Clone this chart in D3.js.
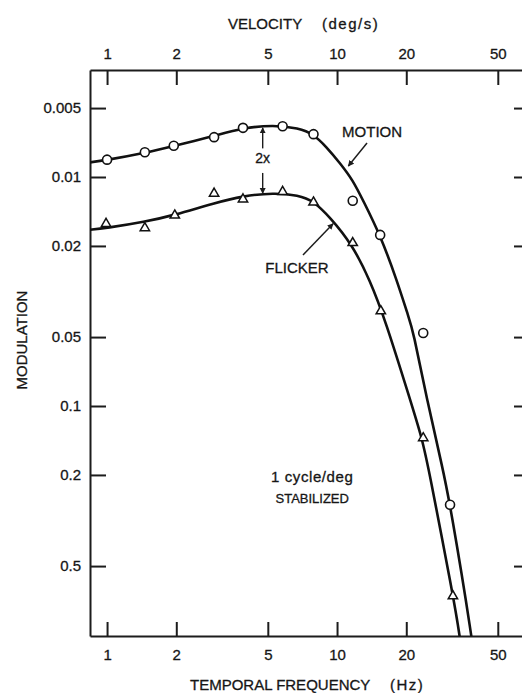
<!DOCTYPE html>
<html>
<head>
<meta charset="utf-8">
<script src="https://cdn.jsdelivr.net/npm/d3@7"></script>
<style>
  body { margin: 0; background: #fff; }
  svg text { font-family: "Liberation Sans", Arial, sans-serif; fill: #161616; stroke: #161616; stroke-width: 0.3px; }
  .axis path, .axis line { stroke: #1c1c1c; stroke-width: 2; }
  .axis text { font-size: 15px; }
</style>
</head>
<body>
<div id="chart"></div>
<script>
// tick labels
var freqTicks = [1, 2, 5, 10, 20, 50];
var velTicks = [1, 2, 5, 10, 20, 50];
var modTicks = [0.005, 0.01, 0.02, 0.05, 0.1, 0.2, 0.5];

// measured points (Hz, modulation)
var motionFreq = [1, 1.46, 1.95, 2.92, 3.9, 5.8, 7.9, 11.7, 15.4, 23.7, 31];
var motionMod = [0.0084, 0.0078, 0.0073, 0.0067, 0.0061, 0.0060, 0.0065, 0.0127, 0.0179, 0.048, 0.27];
var flickerFreq = [0.99, 1.46, 1.97, 2.92, 3.9, 5.8, 7.9, 11.7, 15.5, 23.7, 31.9];
var flickerMod = [0.0160, 0.0167, 0.0147, 0.0118, 0.0125, 0.0116, 0.0129, 0.0194, 0.0385, 0.138, 0.676];

// fitted curves
var motionCurveFreq = [0.8, 1, 1.46, 1.95, 2.92, 3.9, 5.3, 6.8, 7.9, 9.0, 10.3, 11.7, 13.0, 15.4, 18.2, 20.4, 21.4, 24.6, 28.9, 31, 38.6, 42];
var motionCurveMod = [0.0087, 0.00843, 0.00786, 0.00732, 0.00662, 0.00611, 0.00592, 0.00612, 0.00649, 0.0074, 0.00869, 0.0103, 0.0127, 0.0179, 0.0282, 0.0405, 0.0466, 0.0941, 0.190, 0.268, 1.01, 2.0];
var flickerCurveFreq = [0.8, 1, 1.46, 1.95, 2.92, 3.9, 5.3, 6.8, 7.9, 9.3, 11.6, 13.9, 16.2, 20.8, 23.4, 25.1, 31.9, 34.3, 37];
var flickerCurveMod = [0.0171, 0.0167, 0.0157, 0.0147, 0.0130, 0.0121, 0.01172, 0.0120, 0.01273, 0.01495, 0.0196, 0.0282, 0.0421, 0.0941, 0.138, 0.190, 0.669, 1.01, 2.0];

var margin = { top: 70, left: 90 };
var width = 434;
var height = 566;

var svg = d3.select("#chart")
	.append("svg")
	.attr("width", 522)
	.attr("height", 693)
	.append("g")
	.attr("transform", "translate(" + margin.left + "," + margin.top + ")");

//Scales (log on both axes)
var x = d3.scaleLog().domain([0.843, 65]).range([0, width]);
var y = d3.scaleLog().domain([0.00341, 1.01]).range([0, height]);

var defs = svg.append("defs");
defs.append("clipPath").attr("id", "plot")
	.append("rect").attr("width", width).attr("height", height);

defs.append("marker")
	.attr("id", "arrow")
	.attr("viewBox", "0 0 10 10")
	.attr("refX", 9).attr("refY", 5)
	.attr("markerWidth", 6).attr("markerHeight", 7)
	.attr("markerUnits", "userSpaceOnUse")
	.attr("orient", "auto")
	.append("path").attr("d", "M0,0L10,5L0,10Z").attr("fill", "#1c1c1c");

var fmt = function(d) { return String(d); };

//Axes
svg.append("g").attr("class", "axis")
	.attr("transform", "translate(0," + height + ")")
	.call(d3.axisBottom(x).tickValues(freqTicks).tickFormat(fmt).tickSizeInner(-14).tickSizeOuter(0).tickPadding(13));

svg.append("g").attr("class", "axis")
	.call(d3.axisTop(x).tickValues(velTicks).tickFormat(fmt).tickSizeInner(-15).tickSizeOuter(0).tickPadding(11));

svg.append("g").attr("class", "axis")
	.call(d3.axisLeft(y).tickValues(modTicks).tickFormat(fmt).tickSizeInner(-16).tickSizeOuter(0).tickPadding(9));

svg.append("g").attr("class", "axis")
	.attr("transform", "translate(" + width + ",0)")
	.call(d3.axisRight(y).tickValues(modTicks).tickFormat("").tickSizeInner(-10).tickSizeOuter(0));

//Axis titles
svg.append("text").attr("x", 138).attr("y", -41).style("font-size", "15px").text("VELOCITY");
svg.append("text").attr("x", 232).attr("y", -41).style("font-size", "15px")
	.style("letter-spacing", "1.5px").text("(deg/s)");
svg.append("text").attr("x", 100).attr("y", 620).style("font-size", "15px").text("TEMPORAL FREQUENCY");
svg.append("text").attr("x", 300).attr("y", 620).style("font-size", "15px")
	.style("letter-spacing", "1.5px").text("(Hz)");
svg.append("text")
	.attr("transform", "translate(" + (-63) + "," + 270 + ") rotate(-90)")
	.attr("text-anchor", "middle")
	.style("font-size", "15px")
	.text("MODULATION");

//Curves
var line = d3.line()
	.x(function(d) { return x(d[0]); })
	.y(function(d) { return y(d[1]); })
	.curve(d3.curveBasis);

var curves = [d3.zip(motionCurveFreq, motionCurveMod), d3.zip(flickerCurveFreq, flickerCurveMod)];
svg.append("g").attr("clip-path", "url(#plot)")
	.selectAll("path")
	.data(curves)
	.enter()
	.append("path")
	.attr("d", line)
	.attr("fill", "none")
	.attr("stroke", "#111")
	.attr("stroke-width", 2.6);

//Data points
svg.selectAll(".motion")
	.data(d3.zip(motionFreq, motionMod))
	.enter()
	.append("circle")
	.attr("class", "motion")
	.attr("cx", function(d) { return x(d[0]); })
	.attr("cy", function(d) { return y(d[1]); })
	.attr("r", 4.5)
	.attr("fill", "#fff")
	.attr("stroke", "#111")
	.attr("stroke-width", 1.6);

svg.selectAll(".flicker")
	.data(d3.zip(flickerFreq, flickerMod))
	.enter()
	.append("path")
	.attr("class", "flicker")
	.attr("transform", function(d) { return "translate(" + x(d[0]) + "," + y(d[1]) + ")"; })
	.attr("d", d3.symbol(d3.symbolTriangle, 38))
	.attr("fill", "#fff")
	.attr("stroke", "#111")
	.attr("stroke-width", 1.5);

//Annotations
svg.append("text").attr("x", x(14.2)).attr("y", y(0.00669)).attr("text-anchor", "middle")
	.style("font-size", "15px").text("MOTION");
svg.append("line")
	.attr("x1", x(13.5)).attr("y1", y(0.0071))
	.attr("x2", x(11.2)).attr("y2", y(0.00895))
	.attr("stroke", "#1c1c1c").attr("stroke-width", 1.5).attr("marker-end", "url(#arrow)");

svg.append("text").attr("x", x(6.7)).attr("y", y(0.0263)).attr("text-anchor", "middle")
	.style("font-size", "15px").text("FLICKER");
svg.append("line")
	.attr("x1", x(7.11)).attr("y1", y(0.0219))
	.attr("x2", x(9.61)).attr("y2", y(0.0160))
	.attr("stroke", "#1c1c1c").attr("stroke-width", 1.5).attr("marker-end", "url(#arrow)");

svg.append("text").attr("x", x(4.75)).attr("y", y(0.0087)).attr("text-anchor", "middle")
	.style("font-size", "14px").text("2x");
svg.append("line")
	.attr("x1", x(4.75)).attr("y1", y(0.0075))
	.attr("x2", x(4.75)).attr("y2", y(0.0061))
	.attr("stroke", "#1c1c1c").attr("stroke-width", 1.4).attr("marker-end", "url(#arrow)");
svg.append("line")
	.attr("x1", x(4.75)).attr("y1", y(0.0096))
	.attr("x2", x(4.75)).attr("y2", y(0.0118))
	.attr("stroke", "#1c1c1c").attr("stroke-width", 1.4).attr("marker-end", "url(#arrow)");

svg.append("text").attr("x", x(7.8)).attr("y", y(0.2147)).attr("text-anchor", "middle")
	.style("font-size", "15px").style("letter-spacing", "0.6px").text("1 cycle/deg");
svg.append("text").attr("x", x(7.8)).attr("y", y(0.265)).attr("text-anchor", "middle")
	.style("font-size", "13px").text("STABILIZED");
</script>
</body>
</html>
